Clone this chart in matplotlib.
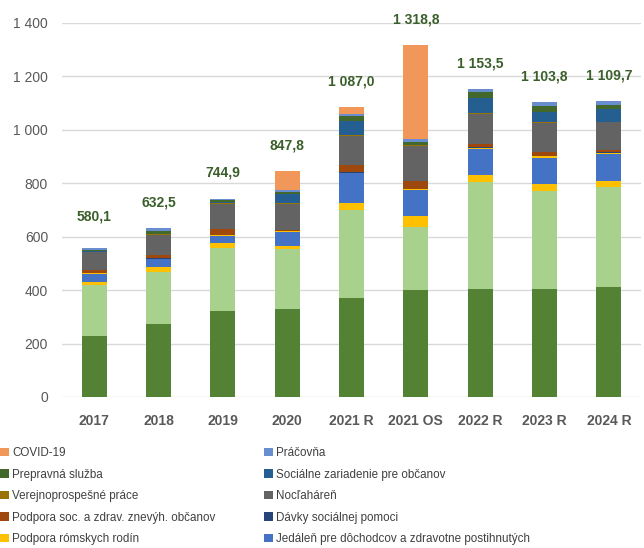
import matplotlib
matplotlib.use("Agg")
import matplotlib.pyplot as plt
from matplotlib.patches import Patch
import numpy as np

plt.rcParams['font.family'] = ['Liberation Sans', 'DejaVu Sans']

categories = ['2017', '2018', '2019', '2020', '2021 R', '2021 OS', '2022 R', '2023 R', '2024 R']
totals = [580.1, 632.5, 744.9, 847.8, 1087.0, 1318.8, 1153.5, 1103.8, 1109.7]

# series from bottom to top of the stack
zelena_tmava = [228, 273, 323, 328, 369, 400, 403, 403, 412]
zelena_svetla = [191, 196, 236, 226, 331, 238, 403, 368, 373]
zlta = [13, 16, 16, 12, 25, 41, 24, 26, 24]
jedalen = [30, 30, 28, 53, 112, 96, 97, 99, 102]
romske_rodiny = [1, 3, 3, 1, 3, 3, 5, 6, 4]
davky = [1, 1, 2, 1, 1, 2, 2, 2, 2]
podpora_soc = [11, 12, 21, 6, 27, 28, 14, 13, 8]
noclaharen = [67, 75, 92, 95, 110, 131, 110, 107, 103]
verejnoprosp = [2, 3, 6, 6, 4, 3, 4, 4, 3]
soc_zariadenie = [1, 2, 2, 31, 52, 3, 58, 40, 46]
prepravna = [6, 10, 8, 7, 18, 10, 20, 21, 17]
pracovna = [7, 13, 5, 10, 7, 12, 13, 16, 14]
covid = [0, 0, 0, 70, 28, 350, 0, 0, 0]

series = [
    (None, zelena_tmava, '#548235'),
    (None, zelena_svetla, '#A9D18E'),
    (None, zlta, '#FFC000'),
    ('Jedáleň pre dôchodcov a zdravotne postihnutých', jedalen, '#4472C4'),
    ('Podpora rómskych rodín', romske_rodiny, '#FFC000'),
    ('Dávky sociálnej pomoci', davky, '#264478'),
    ('Podpora soc. a zdrav. znevýh. občanov', podpora_soc, '#9E480E'),
    ('Nocľaháreň', noclaharen, '#636363'),
    ('Verejnoprospešné práce', verejnoprosp, '#997300'),
    ('Sociálne zariadenie pre občanov', soc_zariadenie, '#255E91'),
    ('Prepravná služba', prepravna, '#43682B'),
    ('Práčovňa', pracovna, '#698ED0'),
    ('COVID-19', covid, '#F1975A'),
]

fig = plt.figure(figsize=(6.44, 5.48), dpi=100)
ax = fig.add_axes([62 / 644, 1 - 397 / 548, 579 / 644, 374 / 548])

x = np.arange(len(categories))
bottom = np.zeros(len(categories))
for name, vals, col in series:
    ax.bar(x, vals, 0.39, bottom=bottom, color=col, linewidth=0, zorder=3)
    bottom += np.array(vals)

# value labels above bars (slovak number format)
def fmt(v):
    return f"{v:,.1f}".replace(',', ' ').replace('.', ',')

for i, t in enumerate(totals):
    ax.text(x[i], t + 95, fmt(t), ha='center', va='center', fontsize=10,
            fontweight='bold', color='#3A5F2A', clip_on=False)

ax.set_ylim(0, 1400)
ax.set_xlim(-0.5, len(categories) - 0.5)
ax.set_yticks(range(0, 1401, 200))
ax.set_yticklabels([f"{v:,}".replace(',', ' ') for v in range(0, 1401, 200)])
ax.set_xticks(x)
ax.set_xticklabels(categories, fontweight='bold')
ax.tick_params(axis='y', length=0, labelsize=10, labelcolor='#595959', pad=10)
ax.tick_params(axis='x', length=0, labelsize=10, labelcolor='#595959', pad=12)
ax.grid(axis='y', color='#D9D9D9', linewidth=1, zorder=0)
for s in ax.spines.values():
    s.set_visible(False)

# legend, two columns (the lower rows are cut off in the reference)
lookup = {name: col for name, vals, col in series if name}
left = ['COVID-19', 'Prepravná služba', 'Verejnoprospešné práce',
        'Podpora soc. a zdrav. znevýh. občanov', 'Podpora rómskych rodín']
right = ['Práčovňa', 'Sociálne zariadenie pre občanov', 'Nocľaháreň',
         'Dávky sociálnej pomoci', 'Jedáleň pre dôchodcov a zdravotne postihnutých']
for names_col, xpos in [(left, 0.0), (right, 264 / 644)]:
    handles = [Patch(facecolor=lookup[n], label=n) for n in names_col]
    fig.legend(handles=handles, loc='upper left', bbox_to_anchor=(xpos, 1 - 447 / 548),
               frameon=False, fontsize=8.4, labelcolor='#404040', handlelength=0.75,
               handleheight=0.75, handletextpad=0.3, labelspacing=0.82,
               borderpad=0, borderaxespad=0)

fig.savefig('out.png', dpi=100)
